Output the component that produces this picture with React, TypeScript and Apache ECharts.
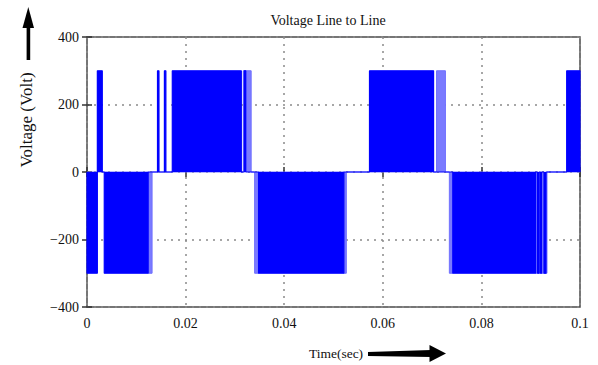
import React, { useEffect, useRef } from "react";
import * as echarts from "echarts";

// Pulse trains (time in s, level in V)
const pulseStart = [0, 0.0021, 0.0035, 0.0143, 0.0157, 0.0173, 0.0319, 0.0348, 0.0573, 0.0742, 0.0914, 0.092, 0.0927, 0.0973];
const pulseEnd = [0.0021, 0.0031, 0.0124, 0.0146, 0.016, 0.0313, 0.0322, 0.0521, 0.0703, 0.091, 0.0917, 0.0922, 0.0931, 0.1];
const pulseLevel = [-300, 300, -300, 300, 300, 300, 300, -300, 300, -300, -300, -300, -300, 300];

// Dense switching strips (drawn lighter)
const denseStart = [0.0124, 0.0317, 0.034, 0.0521, 0.0709, 0.0735, 0.091];
const denseEnd = [0.0132, 0.0333, 0.0348, 0.0526, 0.0727, 0.0742, 0.0933];
const denseLevel = [-300, 300, -300, -300, 300, -300, -300];

const xTicks = [0, 0.02, 0.04, 0.06, 0.08, 0.1];
const yTicks = [-400, -200, 0, 200, 400];

function buildTrain(starts: number[], ends: number[], levels: number[]) {
  const idx = starts.map((_, i) => i).sort((a, b) => starts[a] - starts[b]);
  const pts: number[][] = [[xTicks[0], 0]];
  idx.forEach((i) => {
    pts.push([starts[i], 0], [starts[i], levels[i]], [ends[i], levels[i]], [ends[i], 0]);
  });
  pts.push([xTicks[xTicks.length - 1], 0]);
  return pts;
}

const FONT = "'Liberation Serif', 'Times New Roman', serif";

export default function App() {
  const ref = useRef<HTMLDivElement>(null);
  useEffect(() => {
    if (!ref.current) return;
    const chart = echarts.init(ref.current, null, { renderer: "svg" });
    const fmtY = (v: number) => (v < 0 ? "\u2212" + Math.abs(v) : String(v));
    chart.setOption({
      animation: false,
      backgroundColor: "#ffffff",
      grid: { left: 87, right: 18, top: 37, bottom: 58, show: true, borderColor: "#4a4a4a", borderWidth: 1.5, backgroundColor: "transparent" },
      xAxis: [
        {
          type: "value",
          min: xTicks[0],
          max: xTicks[xTicks.length - 1],
          interval: 0.02,
          axisLine: { show: false },
          axisTick: { show: true, inside: true, length: 5, lineStyle: { color: "#333", width: 1.5 } },
          axisLabel: { fontFamily: FONT, fontSize: 14, color: "#111", margin: 9, formatter: (v: number) => String(+v.toFixed(2)) },
          splitLine: { show: true, lineStyle: { color: "#8a8a8a", type: [2, 5], width: 1.5 } },
        },
        {
          type: "value",
          position: "top",
          min: xTicks[0],
          max: xTicks[xTicks.length - 1],
          interval: 0.02,
          axisLine: { show: false },
          axisTick: { show: true, inside: true, length: 5, lineStyle: { color: "#333", width: 1.5 } },
          axisLabel: { show: false },
          splitLine: { show: false },
        },
      ],
      yAxis: [
        {
          type: "value",
          min: yTicks[0],
          max: yTicks[yTicks.length - 1],
          interval: 200,
          axisLine: { show: false },
          axisTick: { show: true, inside: true, length: 5, lineStyle: { color: "#333", width: 1.5 } },
          axisLabel: { fontFamily: FONT, fontSize: 14, color: "#111", margin: 8, formatter: fmtY },
          splitLine: { show: true, lineStyle: { color: "#8a8a8a", type: [2, 5], width: 1.5 } },
        },
        {
          type: "value",
          position: "right",
          min: yTicks[0],
          max: yTicks[yTicks.length - 1],
          interval: 200,
          axisLine: { show: false },
          axisTick: { show: true, inside: true, length: 5, lineStyle: { color: "#333", width: 1.5 } },
          axisLabel: { show: false },
          splitLine: { show: false },
        },
      ],
      series: [
        {
          type: "line",
          xAxisIndex: 0,
          yAxisIndex: 0,
          showSymbol: false,
          silent: true,
          data: buildTrain(denseStart, denseEnd, denseLevel),
          lineStyle: { color: "#6f6fff", width: 1 },
          areaStyle: { color: "#7a7aff", opacity: 1 },
          z: 2,
        },
        {
          type: "line",
          xAxisIndex: 0,
          yAxisIndex: 0,
          showSymbol: false,
          silent: true,
          data: buildTrain(pulseStart, pulseEnd, pulseLevel),
          lineStyle: { color: "#0000ff", width: 1.2 },
          areaStyle: { color: "#0000ff", opacity: 1 },
          z: 3,
        },
      ],
      graphic: [
        {
          type: "text",
          x: 328,
          y: 20,
          style: { text: "Voltage Line to Line", font: `14px ${FONT}`, fill: "#111", textAlign: "center", textVerticalAlign: "middle" },
        },
        {
          type: "text",
          x: 26,
          y: 120,
          rotation: Math.PI / 2,
          style: { text: "Voltage (Volt)", font: `17px ${FONT}`, fill: "#111", textAlign: "center", textVerticalAlign: "middle" },
        },
        {
          type: "polygon",
          shape: { points: [[28.3, 7], [22.5, 28], [34, 28]] },
          style: { fill: "#000" },
        },
        {
          type: "rect",
          shape: { x: 26.6, y: 27, width: 3.6, height: 33 },
          style: { fill: "#000" },
        },
        {
          type: "text",
          x: 336,
          y: 353,
          style: { text: "Time(sec)", font: `13.5px ${FONT}`, fill: "#111", textAlign: "center", textVerticalAlign: "middle" },
        },
        {
          type: "polygon",
          shape: { points: [[368, 352], [431, 350], [431, 357], [368, 356]] },
          style: { fill: "#000" },
        },
        {
          type: "polygon",
          shape: { points: [[446, 353.5], [429.5, 345], [429.5, 362]] },
          style: { fill: "#000" },
        },
      ],
    });
    return () => chart.dispose();
  }, []);
  return <div ref={ref} style={{ position: "fixed", left: 0, top: 0, width: 598, height: 365 }} />;
}
